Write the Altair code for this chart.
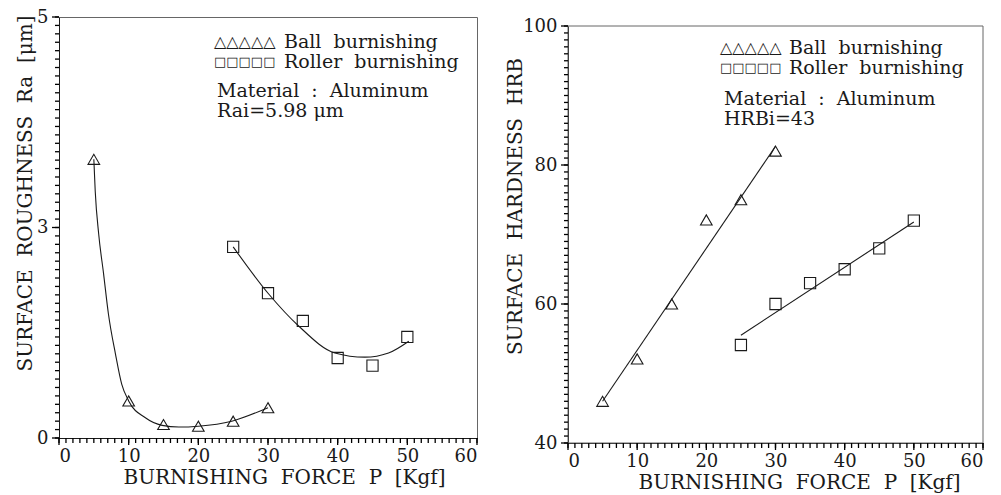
import altair as alt
import pandas as pd

# ---------------- data ----------------
FORCE = [5, 10, 15, 20, 25, 30]
FORCE_ROLLER = [25, 30, 35, 40, 45, 50]

BALL_RA = [3.31, 0.44, 0.16, 0.14, 0.20, 0.36]
ROLLER_RA = [2.27, 1.72, 1.39, 0.95, 0.86, 1.20]

BALL_RA_CURVE_X = [5, 5.2, 5.7, 6.4, 7.1, 8.1, 9.0, 10, 12.4, 14.8, 17.2, 20, 24.8, 30]
BALL_RA_CURVE_Y = [3.31, 2.93, 2.42, 1.95, 1.47, 1.0, 0.64, 0.44, 0.24, 0.15, 0.13, 0.14, 0.20, 0.36]
ROLLER_RA_CURVE_X = [25, 30.1, 34.4, 39.6, 43.9, 47.3, 50.2]
ROLLER_RA_CURVE_Y = [2.27, 1.71, 1.33, 1.01, 0.96, 1.01, 1.15]

BALL_HRB = [46.0, 52.1, 60.0, 72.1, 75.0, 82.0]
ROLLER_HRB = [54.1, 60.0, 63.0, 65.0, 68.0, 72.0]
BALL_HRB_FIT_X = [5, 30]
BALL_HRB_FIT_Y = [46.0, 82.7]
ROLLER_HRB_FIT_X = [25, 50]
ROLLER_HRB_FIT_Y = [55.5, 71.8]

X_MINOR_TICKS = list(range(0, 61, 1))
X_LABEL_POS = [0, 10, 20, 30, 40, 50, 60]
X_LABELS = ["0", "10", "20", "30", "40", "50", "60"]

RA_MINOR_TICKS = [round(i * 0.1, 2) for i in range(0, 51)]
RA_LABEL_POS = [0, 2.5, 5]
RA_LABELS = ["0", "3", "5"]

HRB_MINOR_TICKS = list(range(40, 101, 1))
HRB_LABEL_POS = [40, 60, 80, 100]
HRB_LABELS = ["40", "60", "80", "100"]

FONT = "DejaVu Serif"
INK = "#1a1a1a"
S2 = "\u00a0\u00a0"  # double space that SVG keeps


def label_expr(pos, labels):
    parts = []
    for p, l in zip(pos, labels):
        parts.append(f"abs(datum.value - {p}) < 1e-6 ? '{l}' : ")
    return "".join(parts) + "''"


def pts(xs, ys):
    return pd.DataFrame({"x": xs, "y": ys})


def make_panel(width, height, ydom, yrange, ybottom, yminor, ylabel_pos, ylabels, ytitle,
               ytitle_x, ytitle_y, xtitle_x,
               ball_x, ball_y, roller_x, roller_y,
               bcx, bcy, rcx, rcy, interp, texts, frame=None):
    xs = alt.Scale(domain=[0, 60], nice=False, zero=False)
    if yrange is None:
        ys = alt.Scale(domain=ydom, nice=False, zero=False)
    else:
        ys = alt.Scale(domain=ydom, range=yrange, nice=False, zero=False)
    xaxis = alt.Axis(values=X_LABEL_POS, labelExpr=label_expr(X_LABEL_POS, X_LABELS),
                     title=S2.join(["BURNISHING", "FORCE", "P", "[Kgf]"]), titleX=xtitle_x,
                     labelOverlap=False, labelPadding=9, titlePadding=2, ticks=False)
    yaxis = alt.Axis(values=ylabel_pos, labelExpr=label_expr(ylabel_pos, ylabels),
                     title=ytitle, titleX=ytitle_x, titleY=ytitle_y,
                     titleBaseline="middle", titleAngle=-90,
                     labelOverlap=False, labelPadding=11, ticks=False)
    X = alt.X("x:Q", scale=xs, axis=xaxis)
    Y = alt.Y("y:Q", scale=ys, axis=yaxis)

    layers = []
    if frame is not None:
        layers.append(alt.Chart(pd.DataFrame({"a": [0]})).mark_rect(
            fill=None, stroke="#666666", strokeWidth=1).encode(
            x=alt.value(frame[0]), x2=alt.value(frame[1]),
            y=alt.value(frame[2]), y2=alt.value(frame[3])))

    # tick marks drawn from the tick-value lists through the panel scales
    for vals, ln in ((X_MINOR_TICKS, 5), (X_LABEL_POS, 7)):
        layers.append(alt.Chart(pd.DataFrame({"v": vals})).mark_rule(
            color="#000000", strokeWidth=1.3, clip=False).encode(
            x=alt.X("v:Q", scale=xs, axis=xaxis),
            y=alt.value(ybottom), y2=alt.value(ybottom + ln)))
    for vals, ln in ((yminor, 4), (ylabel_pos, 7)):
        layers.append(alt.Chart(pd.DataFrame({"v": vals})).mark_rule(
            color="#000000", strokeWidth=1.3, clip=False).encode(
            y=alt.Y("v:Q", scale=ys, axis=yaxis),
            x=alt.value(-ln), x2=alt.value(0)))

    layers += [
        alt.Chart(pts(bcx, bcy)).mark_line(color=INK, strokeWidth=1.1,
                                           interpolate=interp).encode(x=X, y=Y),
        alt.Chart(pts(rcx, rcy)).mark_line(color=INK, strokeWidth=1.1,
                                           interpolate=interp).encode(x=X, y=Y),
        alt.Chart(pts(ball_x, ball_y)).mark_point(
            shape="triangle-up", size=135, filled=False, color=INK, strokeWidth=1.1,
            opacity=1).encode(x=X, y=Y),
        alt.Chart(pts(roller_x, roller_y)).mark_point(
            shape="square", size=125, filled=False, color=INK, strokeWidth=1.1,
            opacity=1).encode(x=X, y=Y),
    ]
    for row in texts:
        layers.append(
            alt.Chart(pd.DataFrame({"t": [row["t"]]})).mark_text(
                align="left", baseline="middle", font=row.get("font", FONT),
                fontSize=row["fs"], color=INK).encode(
                text="t:N", x=alt.value(row["x"]), y=alt.value(row["y"])))
    return alt.layer(*layers).properties(width=width, height=height)


TXT = 19
left_texts = [
    {"t": "△△△△△", "x": 155, "y": 25, "fs": 16, "font": "DejaVu Sans"},
    {"t": "Ball" + S2 + "burnishing", "x": 225, "y": 25, "fs": TXT},
    {"t": "□□□□□", "x": 155, "y": 45, "fs": 13, "font": "DejaVu Sans"},
    {"t": "Roller" + S2 + "burnishing", "x": 225, "y": 45, "fs": TXT},
    {"t": "Material" + S2 + ":" + S2 + "Aluminum", "x": 158, "y": 74, "fs": TXT},
    {"t": "Rai=5.98 μm", "x": 158, "y": 94, "fs": TXT},
]
# right panel: plot area is offset 9px down inside its view
right_texts = [
    {"t": "△△△△△", "x": 152, "y": 31, "fs": 16, "font": "DejaVu Sans"},
    {"t": "Ball" + S2 + "burnishing", "x": 221, "y": 31, "fs": TXT},
    {"t": "□□□□□", "x": 152, "y": 51, "fs": 13, "font": "DejaVu Sans"},
    {"t": "Roller" + S2 + "burnishing", "x": 221, "y": 51, "fs": TXT},
    {"t": "Material" + S2 + ":" + S2 + "Aluminum", "x": 156, "y": 82, "fs": TXT},
    {"t": "HRBi=43", "x": 156, "y": 102, "fs": TXT},
]

left = make_panel(418, 421, [0, 5], None, 421, RA_MINOR_TICKS, RA_LABEL_POS, RA_LABELS,
                  S2.join(["SURFACE", "ROUGHNESS", "Ra", "[μm]"]), -34, 176, 225,
                  FORCE, BALL_RA, FORCE_ROLLER, ROLLER_RA,
                  BALL_RA_CURVE_X, BALL_RA_CURVE_Y, ROLLER_RA_CURVE_X, ROLLER_RA_CURVE_Y,
                  "monotone", left_texts)
right = make_panel(415, 426, [40, 100], [426, 9], 426, HRB_MINOR_TICKS, HRB_LABEL_POS,
                   HRB_LABELS, S2.join(["SURFACE", "HARDNESS", "HRB"]), -53, 189, 231,
                   FORCE, BALL_HRB, FORCE_ROLLER, ROLLER_HRB,
                   BALL_HRB_FIT_X, BALL_HRB_FIT_Y, ROLLER_HRB_FIT_X, ROLLER_HRB_FIT_Y,
                   "linear", right_texts, frame=(0, 415, 9, 426))

left = left.properties(view=alt.ViewConfig(stroke="#666666", strokeWidth=1))
right = right.properties(view=alt.ViewConfig(stroke=None))

chart = alt.hconcat(left, right, spacing=26).properties(
    padding={"left": 14, "top": 7, "right": 5, "bottom": 5},
    background="white",
).configure_axis(
    labelFont=FONT, labelFontSize=18, labelColor=INK,
    titleFont=FONT, titleFontSize=20, titleFontWeight="normal", titleColor=INK,
    domainColor=INK, domainWidth=1, grid=False,
)

chart.save("out.html", embed_options={"renderer": "svg", "actions": False})
